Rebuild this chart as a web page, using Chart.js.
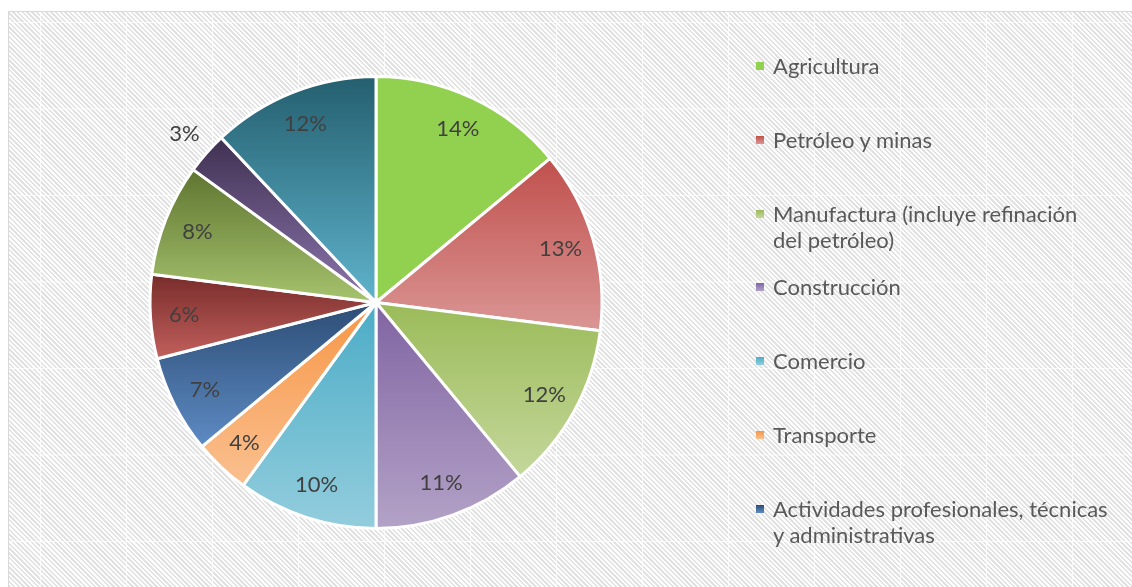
<!DOCTYPE html>
<html>
<head>
<meta charset="utf-8">
<script src="https://cdn.jsdelivr.net/npm/chart.js@4.4.1/dist/chart.umd.min.js"></script>
<style>
    html, body { margin: 0; padding: 0; background: #fff; overflow: hidden; }
    #frame {
        position: absolute; left: 8px; top: 11px; width: 1130px; height: 580px;
        border: 1px solid #d9d9d9;
        background-color: #fff;
        background-image:
            linear-gradient(90deg, rgba(255,255,255,0.75) 1px, transparent 1px),
            linear-gradient(0deg, rgba(255,255,255,0.75) 1px, transparent 1px),
            repeating-linear-gradient(45deg, #e2e2e2 0px, #e2e2e2 1.7px, #ffffff 1.7px, #ffffff 3.35px);
        background-size: 86px 86.5px, 86px 86.5px, auto;
        background-position: 31px 0px, 0px 11px, 0 0;
    }
    #wrap { position: absolute; left: 0; top: 0; width: 1132px; height: 587px; }
    #legend {
        position: absolute; left: 756px; top: 53px; width: 376px;
        font-family: 'Lato', 'Open Sans', sans-serif; font-size: 22px; color: #595959;
    }
    .item { position: relative; padding-left: 17px; line-height: 26.5px; height: 73.8px; white-space: nowrap; }
    .box { position: absolute; left: 0; top: 9px; width: 8px; height: 8px; }
</style>
</head>
<body>
<div id="frame"></div>
<div id="wrap"><canvas id="pieChart" width="1132" height="587"></canvas></div>
<div id="legend"></div>
<script>
// sectors, in drawing order (clockwise from the top)
const sectors = [
    'Agricultura',
    'Petróleo y minas',
    ['Manufactura (incluye refinación', 'del petróleo)'],
    'Construcción',
    'Comercio',
    'Transporte',
    ['Actividades profesionales, técnicas', 'y administrativas'],
    'Administración pública',
    'Enseñanza y servicios sociales y de salud',
    'Suministro de electricidad y agua',
    'Otros servicios'
];
const shares = [14, 13, 12, 11, 10, 4, 7, 6, 8, 3, 12];

// each slice is shaded from its top colour to its bottom colour
const topColors = ['#92d050', '#c0504d', '#9bbb59', '#8064a2', '#4bacc6', '#f79646', '#2c4d75', '#772c2a', '#5f7530', '#403152', '#245f6f'];
const bottomColors = ['#92d050', '#da9694', '#c4d79b', '#b3a2c7', '#93cddd', '#fac090', '#5e8bc4', '#c2605d', '#a6c36e', '#8c76ae', '#5fb3cc'];

const total = shares.reduce((a, b) => a + b, 0);

function sliceGradient(context) {
    const chart = context.chart;
    const i = context.dataIndex;
    const area = chart.chartArea;
    if (!area) return topColors[i];
    const cx = (area.left + area.right) / 2;
    const cy = (area.top + area.bottom) / 2;
    const r = (Math.min(area.right - area.left, area.bottom - area.top) - 3) / 2;

    // angles measured clockwise from 12 o'clock
    const before = shares.slice(0, i).reduce((a, b) => a + b, 0);
    const a0 = before / total * 2 * Math.PI;
    const a1 = (before + shares[i]) / total * 2 * Math.PI;
    const ys = [cy, cy - r * Math.cos(a0), cy - r * Math.cos(a1)];
    if (a0 <= 0) ys.push(cy - r);
    if (a0 <= Math.PI && a1 >= Math.PI) ys.push(cy + r);
    const minY = Math.min(...ys);
    const maxY = Math.max(...ys);

    const g = chart.ctx.createLinearGradient(0, minY, 0, maxY);
    g.addColorStop(0, topColors[i]);
    g.addColorStop(1, bottomColors[i]);
    return g;
}

// percentage labels inside the slices, small ones outside
const percentLabels = {
    id: 'percentLabels',
    afterDatasetsDraw(chart) {
        const ctx = chart.ctx;
        const meta = chart.getDatasetMeta(0);
        ctx.save();
        ctx.font = '22px Lato, "Open Sans", sans-serif';
        ctx.fillStyle = '#404040';
        ctx.textAlign = 'center';
        ctx.textBaseline = 'middle';
        meta.data.forEach((arc, i) => {
            const p = arc.getProps(['x', 'y', 'startAngle', 'endAngle', 'outerRadius'], true);
            const mid = (p.startAngle + p.endAngle) / 2;
            const f = shares[i] < 4 ? 1.13 : 0.85;
            const x = p.x + Math.cos(mid) * p.outerRadius * f;
            const y = p.y + Math.sin(mid) * p.outerRadius * f;
            const pct = Math.round(shares[i] / total * 100) + '%';
            ctx.fillText(pct, x, y);
        });
        ctx.restore();
    }
};

const ctx = document.getElementById('pieChart').getContext('2d');
const pieChart = new Chart(ctx, {
    type: 'pie',
    data: {
        labels: sectors,
        datasets: [{
            data: shares,
            backgroundColor: sliceGradient,
            borderColor: '#ffffff',
            borderWidth: 3,
            hoverOffset: 0
        }]
    },
    options: {
        responsive: false,
        animation: false,
        events: [],
        layout: {
            padding: { left: 148, right: 528, top: 75, bottom: 57 }
        },
        plugins: {
            legend: { display: false },
            tooltip: { enabled: false }
        }
    },
    plugins: [percentLabels]
});

// legend on the right, built from the same arrays; entries that do not fit are left out
const legend = document.getElementById('legend');
const legendBottom = 575;
for (let i = 0; i < sectors.length; i++) {
    const name = sectors[i];
    const item = document.createElement('div');
    item.className = 'item';
    const box = document.createElement('span');
    box.className = 'box';
    box.style.background = 'linear-gradient(' + topColors[i] + ', ' + bottomColors[i] + ')';
    item.appendChild(box);
    const lines = Array.isArray(name) ? name : [name];
    lines.forEach((line, k) => {
        if (k > 0) item.appendChild(document.createElement('br'));
        item.appendChild(document.createTextNode(line));
    });
    legend.appendChild(item);
    const textBottom = item.getBoundingClientRect().top + lines.length * 26.5;
    if (textBottom > legendBottom) {
        legend.removeChild(item);
        break;
    }
}
</script>
</body>
</html>
